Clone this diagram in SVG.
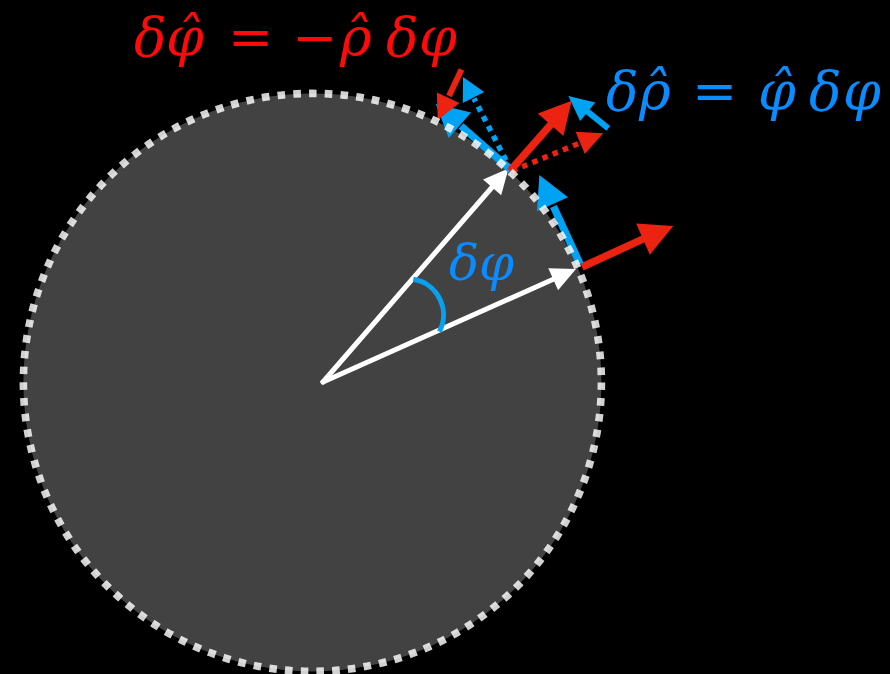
<svg xmlns="http://www.w3.org/2000/svg" width="890" height="674" viewBox="0 0 890 674">
<style>
.bg{fill:#000}
.disk{fill:#424242}
.rim{fill:none;stroke:#fff;stroke-opacity:0.82;stroke-width:7.6;stroke-dasharray:7.6 8.19}
.wline{stroke:#fff;stroke-width:5;fill:none;stroke-linecap:round}
.whead{fill:#fff}
.rline{stroke:#eb2310;stroke-width:7.5;fill:none}
.rline2{stroke:#eb2310;stroke-width:6;fill:none}
.rdot{stroke:#eb2310;stroke-width:5.5;fill:none;stroke-dasharray:5.5 5.5}
.rhead{fill:#eb2310}
.bline{stroke:#00a3f3;stroke-width:7.5;fill:none}
.bline2{stroke:#00a3f3;stroke-width:6;fill:none}
.bdot{stroke:#00a3f3;stroke-width:5.5;fill:none;stroke-dasharray:5.5 5.5}
.bhead{fill:#00a3f3}
.arc{stroke:#0aa0f0;stroke-width:5;fill:none}
.math{font-family:"DejaVu Serif","Liberation Serif",serif;font-style:italic}
.up{font-style:normal}
.red{fill:#ff0a0a}
.blue{fill:#0a8cff}
</style>
<rect class="bg" x="0" y="0" width="890" height="674"/>
<g id="disk">
<circle class="disk" cx="312.4" cy="382.4" r="289"/>
</g>
<g id="connectors">
<g id="radius-a">
<line class="wline" x1="323" y1="382" x2="494" y2="185"/>
<polygon class="whead" points="508.5,168.5 501.2,195.3 483,179.5"/>
</g>
<g id="radius-b">
<line class="wline" x1="323" y1="382" x2="555" y2="278.5"/>
<polygon class="whead" points="576,269 558.1,290.2 548.3,268.2"/>
</g>
<path id="angle-arc" class="arc" d="M413.3,279.3 A36,36 0 0 1 439.3,331.7"/>
<g id="rho-hat-b">
<line class="rline" x1="582" y1="267" x2="645" y2="238.2"/>
<polygon class="rhead" points="673.3,226 649.8,254.7 636.2,223.5"/>
</g>
<g id="phi-hat-b">
<line class="bline" x1="580" y1="264" x2="553.5" y2="206.5"/>
<polygon class="bhead" points="539.3,175 568,197.2 537,211.2"/>
</g>
<g id="rho-hat-b-moved">
<line class="rdot" x1="512" y1="171" x2="581" y2="142.5"/>
<polygon class="rhead" points="603.3,133.3 584.8,154 575.6,131.8"/>
</g>
<g id="phi-hat-b-moved">
<line class="bdot" x1="511" y1="170" x2="474" y2="98.5"/>
<polygon class="bhead" points="463,77 484.2,91.9 462.8,102.9"/>
</g>
<g id="phi-hat-a">
<line class="bline" x1="511" y1="170" x2="461" y2="126"/>
<polygon class="bhead" points="435.8,104.1 471.1,112.4 448.7,138"/>
</g>
<g id="rho-hat-a">
<line class="rline" x1="510" y1="171" x2="552" y2="123.2"/>
<polygon class="rhead" points="571.7,100.7 563.4,136 537.8,113.6"/>
</g>
<g id="delta-phi-hat">
<line class="rline2" x1="461.5" y1="69.5" x2="449" y2="96"/>
<polygon class="rhead" points="437.7,120 459.5,103.1 436.9,92.5"/>
</g>
<g id="delta-rho-hat">
<line class="bline2" x1="608.3" y1="128.3" x2="586" y2="110.3"/>
<polygon class="bhead" points="568.3,96 595.3,102.4 580.2,121"/>
</g>
</g>
<g id="rim">
<circle class="rim" cx="312.4" cy="382.4" r="289"/>
</g>
<g id="label-red">
<text class="math red" font-size="54" y="56"><tspan x="134">δ</tspan><tspan x="166">φ̂</tspan><tspan class="up" x="228">=</tspan><tspan class="up" x="292">−</tspan><tspan x="340">ρ̂</tspan><tspan x="386">δ</tspan><tspan x="419">φ</tspan></text>
</g>
<g id="label-blue">
<text class="math blue" font-size="54" y="110"><tspan x="606">δ</tspan><tspan x="639">ρ̂</tspan><tspan class="up" x="692">=</tspan><tspan x="758">φ̂</tspan><tspan x="809">δ</tspan><tspan x="843">φ</tspan></text>
</g>
<g id="label-angle">
<text class="math blue" font-size="50" y="280"><tspan x="449">δ</tspan><tspan x="479">φ</tspan></text>
</g>
</svg>
